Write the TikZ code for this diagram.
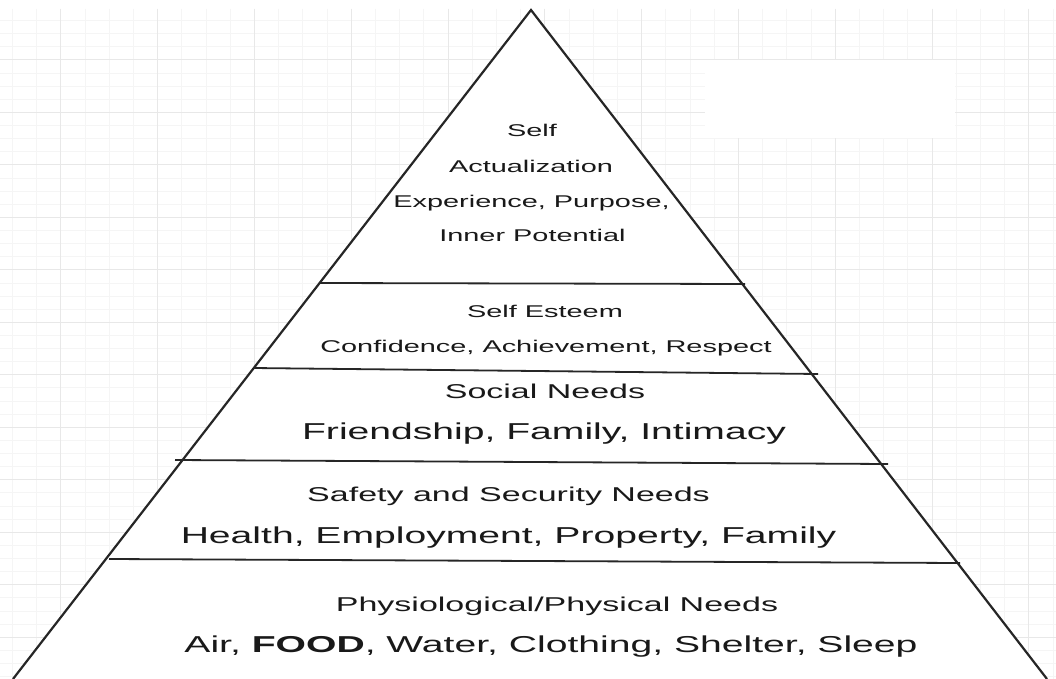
\documentclass[tikz,border=0pt]{standalone}
\usepackage{fontspec}
\setmainfont{Liberation Sans}[FakeStretch=1.70]
\begin{document}
\begin{tikzpicture}[x=1pt,y=-1pt,
  edge/.style={draw=black!85, line width=2.2pt, line join=miter},
  tier/.style={draw=black!85, line width=1.8pt},
  lbl/.style={anchor=base, inner sep=0pt, text=black!90},
  small/.style={lbl, font=\fontsize{17}{20}\selectfont},
  mid/.style={lbl, font=\fontsize{20}{24}\selectfont},
  big/.style={lbl, font=\fontsize{23}{28}\selectfont},
  minorgrid/.style={draw=black!4, line width=1pt},
  majorgrid/.style={draw=black!9, line width=1pt}]
\useasboundingbox (0,0) rectangle (1056,679);
\fill[white] (0,0) rectangle (1056,679);
% grid
\foreach \k in {0,...,43} \draw[minorgrid] ({12.5+24.2*\k},9) -- ({12.5+24.2*\k},679);
\foreach \k in {1,...,51} \draw[minorgrid] (0,{7.5+13.12*\k}) -- (1056,{7.5+13.12*\k});
\foreach \k in {2,6,...,42} \draw[majorgrid] ({12.5+24.2*\k},9) -- ({12.5+24.2*\k},679);
\foreach \k in {4,8,...,48} \draw[majorgrid] (0,{7.5+13.12*\k}) -- (1056,{7.5+13.12*\k});
% blank patch
\fill[white] (705,60) rectangle (955,138);
% pyramid
\coordinate (apex) at (531,10);
\coordinate (bl) at (13,679);
\coordinate (br) at (1047,679);
\fill[white] (apex) -- (bl) -- (br) -- cycle;
\draw[edge] (bl) -- (apex) -- (br);
% tier lines
\coordinate (a1) at (320,283); \coordinate (b1) at (745,284);
\coordinate (a2) at (253,368); \coordinate (b2) at (818,374);
\coordinate (a3) at (175,460); \coordinate (b3) at (888,464);
\coordinate (a4) at (109,559); \coordinate (b4) at (960,563);
\draw[tier] (a1) -- (b1);
\draw[tier] (a2) -- (b2);
\draw[tier] (a3) -- (b3);
\draw[tier] (a4) -- (b4);
% labels
\node[small] (s1) at (532,137) {Self};
\node[small] (s2) at (531,172) {Actualization};
\node[small] (s3) at (531.5,207) {Experience, Purpose,};
\node[small] (s4) at (532.5,241) {Inner Potential};
\node[small] (e1) at (545,317) {Self Esteem};
\node[small] (e2) at (546,352) {Confidence, Achievement, Respect};
\node[mid] (o1) at (545,398) {Social Needs};
\node[big] (o2) at (544,439) {Friendship, Family, Intimacy};
\node[mid] (f1) at (508.5,501) {Safety and Security Needs};
\node[big] (f2) at (508.5,543) {Health, Employment, Property, Family};
\node[mid] (p1) at (557,611) {Physiological/Physical Needs};
\node[big] (p2) at (551,652) {Air, \textbf{FOOD}, Water, Clothing, Shelter, Sleep};
\end{tikzpicture}
\end{document}
